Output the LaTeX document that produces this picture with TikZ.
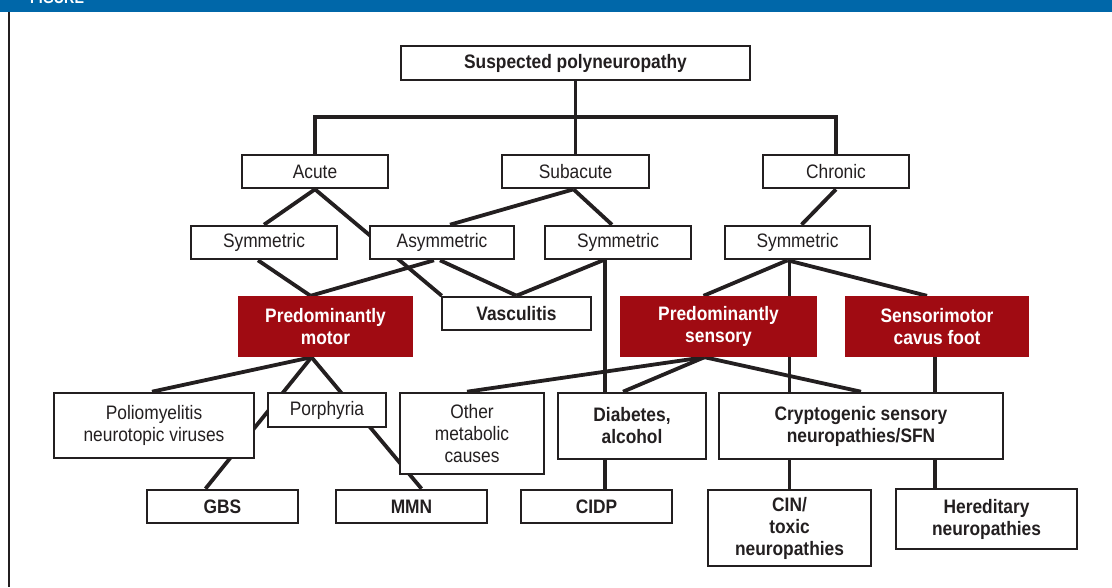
\documentclass[tikz,border=0pt]{standalone}
\usepackage{fontspec}
\setmainfont[FakeStretch=0.89]{Liberation Sans}
\usetikzlibrary{calc}
\pgfdeclarelayer{bg}
\pgfsetlayers{bg,main}
\definecolor{figblue}{HTML}{0067A9}
\definecolor{boxred}{HTML}{A00B12}
\definecolor{ink}{HTML}{231F20}
\begin{document}
\begin{tikzpicture}[x=1pt,y=-1pt,
  box/.style={draw=ink,line width=2.6pt,fill=white,inner sep=0pt,align=center,
    font=\fontsize{19.5}{22}\selectfont,text=ink},
  bbox/.style={box,font=\fontsize{19.5}{22}\selectfont\bfseries},
  redbox/.style={fill=boxred,inner sep=0pt,align=center,
    font=\fontsize{19.5}{22}\selectfont\bfseries,text=white},
  link/.style={draw=ink,line width=3.8pt},
  sz/.style 2 args={minimum width=#1,minimum height=#2}]
\useasboundingbox (0,0) rectangle (1112,587);
% header bar and frame
\fill[figblue] (0,0) rectangle (1112,11.5);
\node[anchor=base west,text=white,font=\fontsize{16}{18}\selectfont\bfseries,inner sep=0pt] (fig) at (30,3.5) {FIGURE};
\draw[ink,line width=2pt] (9,11.5) -- (9,587);

% nodes
\node[bbox,sz={349}{34}] (top) at (575.5,63) {Suspected polyneuropathy};
\node[box,sz={146}{33}] (acute) at (315,171.5) {Acute};
\node[box,sz={147}{33}] (subacute) at (575.5,171.5) {Subacute};
\node[box,sz={146}{33}] (chronic) at (836,171.5) {Chronic};

\node[box,sz={146}{33}] (sym1) at (264,242.5) {Symmetric};
\node[box,sz={144}{33}] (asym) at (442,242.5) {Asymmetric};
\node[box,sz={146}{33}] (sym2) at (618,242.5) {Symmetric};
\node[box,sz={145}{33}] (sym3) at (797.5,242.5) {Symmetric};

\node[redbox,sz={175}{61}] (pm) at (325.5,326.5) {Predominantly\\motor};
\node[bbox,sz={149}{33}] (vasc) at (516.5,313.5) {Vasculitis};
\node[redbox,sz={197}{61}] (ps) at (718.5,326.5) {Predominantly\\sensory};
\node[redbox,sz={184}{61}] (sc) at (937,326.5) {Sensorimotor\\cavus foot};

\node[box,sz={200}{65}] (polio) at (154,425.5) {Poliomyelitis\\neurotopic viruses};
\node[box,sz={118}{34}] (porph) at (327,410) {Porphyria};
\node[box,sz={144}{81}] (om) at (472,433.5) {Other\\metabolic\\causes};
\node[bbox,sz={148}{66}] (diab) at (632,426) {Diabetes,\\alcohol};
\node[bbox,sz={284}{66}] (crypto) at (861,426) {Cryptogenic sensory\\neuropathies/SFN};

\node[bbox,sz={151}{33}] (gbs) at (222.5,506.5) {GBS};
\node[bbox,sz={151}{33}] (mmn) at (411.5,506.5) {MMN};
\node[bbox,sz={151}{33}] (cidp) at (596.5,506.5) {CIDP};
\node[bbox,sz={163}{76}] (cin) at (789.5,528) {CIN/\\toxic\\neuropathies};
\node[bbox,sz={181}{60}] (hered) at (986.5,519) {Hereditary\\neuropathies};

% connectors
\coordinate (j) at (575.5,117);
\begin{pgfonlayer}{bg}
\draw[link] (top.south) -- (subacute.north);
\draw[link] (acute.north) |- (j) -| (chronic.north);

\draw[link] (acute.south) -- (sym1.north);
\draw[link] (acute.south) -- ([xshift=1]vasc.north west);
\draw[link] ([xshift=-2]subacute.south) -- ([xshift=8]asym.north);
\draw[link] ([xshift=-2]subacute.south) -- ([xshift=-6]sym2.north);
\draw[link] (chronic.south) -- ([xshift=4]sym3.north);

\draw[link] ([xshift=-6]sym1.south) -- ([xshift=-15]pm.north);
\draw[link] ([xshift=-8]asym.south) -- ([xshift=-15]pm.north);
\draw[link] ([xshift=-2]asym.south) -- (vasc.north);
\draw[link] ([xshift=-15]sym2.south) -- (vasc.north);
\draw[link] ([xshift=8.5]cidp.north) -- ([xshift=8.5]cidp.north |- sym2.south);

\draw[link] ([xshift=-10]sym3.south) -- ([xshift=-15]ps.north);
\draw[link] (cin.north) -- (cin.north |- sym3.south);
\draw[link] ([xshift=-10]sym3.south) -- ([xshift=-10]sc.north);

\draw[link] ([xshift=-14]ps.south) -- ([xshift=-5]om.north);
\draw[link] ([xshift=-14]ps.south) -- ([xshift=-9]diab.north);
\draw[link] ([xshift=-14]ps.south) -- (crypto.north);
\draw[link] ([xshift=-2]sc.south) -- ([xshift=-2]sc.south |- hered.north);

\draw[link] ([xshift=-14]pm.south) -- ([xshift=-2]polio.north);
\draw[link] ([xshift=-14]pm.south) -- ([xshift=-17]gbs.north);
\draw[link] ([xshift=-14]pm.south) -- ([xshift=10]mmn.north);
\end{pgfonlayer}
\end{tikzpicture}
\end{document}
